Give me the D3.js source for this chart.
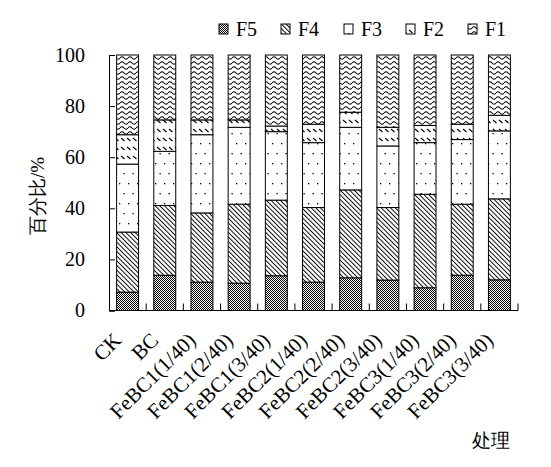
<!DOCTYPE html>
<html><head><meta charset="utf-8">
<script src="https://cdn.jsdelivr.net/npm/d3@7"></script>
<style>
body{margin:0;background:#fff;}
text{font-family:"Liberation Serif","Times New Roman",serif;fill:#000;}
</style></head>
<body><svg id="c" width="551" height="467"></svg>
<script>
const categories = ["CK","BC","FeBC1(1/40)","FeBC1(2/40)","FeBC1(3/40)","FeBC2(1/40)","FeBC2(2/40)","FeBC2(3/40)","FeBC3(1/40)","FeBC3(2/40)","FeBC3(3/40)"];
const seriesNames = ["F5","F4","F3","F2","F1"];
const F5 = [7.2,13.8,11.1,10.7,13.6,11.1,12.8,11.9,8.9,13.8,12.0];
const F4 = [23.5,27.3,27.1,30.9,29.6,29.2,34.4,28.4,36.6,27.8,31.7];
const F3 = [26.6,21.2,30.6,30.1,26.8,25.4,24.5,24.1,20.2,25.3,26.6];
const F2 = [11.5,12.3,5.8,2.9,2.2,7.2,5.9,7.3,6.7,6.0,6.1];
const F1 = [31.2,25.4,25.4,25.4,27.8,27.1,22.4,28.3,27.6,27.1,23.6];
const yTicks = [0,20,40,60,80,100];
const yTitle = "百分比/%";
const xTitle = "处理";

const svg = d3.select("#c");
const defs = svg.append("defs");
function pat(id,w,h){return defs.append("pattern").attr("id",id).attr("patternUnits","userSpaceOnUse").attr("width",w).attr("height",h);}
let p5 = pat("pF5",2,2);
p5.append("rect").attr("width",2).attr("height",2).attr("fill","#fff");
p5.append("rect").attr("width",1).attr("height",1).attr("fill","#000");
p5.append("rect").attr("x",1).attr("y",1).attr("width",1).attr("height",1).attr("fill","#000");
let p4 = pat("pF4",3.3,3.3).attr("patternTransform","rotate(-45)");
p4.append("rect").attr("width",3.3).attr("height",3.3).attr("fill","#fff");
p4.append("rect").attr("width",0.95).attr("height",3.3).attr("fill","#000");
let p3 = pat("pF3",9,20);
p3.append("rect").attr("width",9).attr("height",20).attr("fill","#fff");
p3.append("rect").attr("x",2).attr("y",3).attr("width",1.3).attr("height",1.3).attr("fill","#000");
p3.append("rect").attr("x",6.5).attr("y",13).attr("width",1.3).attr("height",1.3).attr("fill","#000");
let p2 = pat("pF2",6,9);
p2.append("rect").attr("width",6).attr("height",9).attr("fill","#fff");
p2.append("path").attr("d","M1,3 L4.5,6").attr("stroke","#000").attr("stroke-width",1.1);
let p1 = pat("pF1",8,5);
p1.append("rect").attr("width",8).attr("height",5).attr("fill","#fff");
p1.append("path").attr("d","M0,3 Q2,0.6 4,3 T8,3").attr("fill","none").attr("stroke","#000").attr("stroke-width",1.1);

const x0=109, x1=518, yTop=55, yBot=310.5;
const x = d3.scaleBand().domain(categories).range([x0,x1]).paddingInner(0.41).paddingOuter(0.205);
const y = d3.scaleLinear().domain([0,100]).range([yBot,yTop]);

const rows = categories.map((c,i)=>({cat:c,F5:F5[i],F4:F4[i],F3:F3[i],F2:F2[i],F1:F1[i]}));
const stack = d3.stack().keys(seriesNames)(rows);

const g = svg.append("g");
stack.forEach(s=>{
  g.append("g").selectAll("rect").data(s).join("rect")
   .attr("x",d=>x(d.data.cat)).attr("width",x.bandwidth())
   .attr("y",d=>y(d[1])).attr("height",d=>y(d[0])-y(d[1]))
   .attr("fill",`url(#p${s.key})`).attr("stroke","#000").attr("stroke-width",1);
});

const ya = svg.append("g").attr("transform",`translate(${x0},0)`)
  .call(d3.axisLeft(y).tickValues(yTicks).tickSize(-6).tickPadding(24));
ya.select(".domain").attr("stroke","#000");
ya.selectAll(".tick line").attr("stroke","#000");
ya.selectAll("text").attr("font-size",20).attr("font-family","Liberation Serif");

svg.append("line").attr("x1",x0).attr("x2",x1).attr("y1",yBot).attr("y2",yBot).attr("stroke","#000");
const bounds = d3.range(categories.length+1).map(i=>x0+i*x.step());
svg.append("g").selectAll("line").data(bounds.slice(1)).join("line")
  .attr("x1",d=>d).attr("x2",d=>d).attr("y1",yBot).attr("y2",yBot-7).attr("stroke","#000");

svg.append("g").selectAll("text").data(categories).join("text")
  .attr("transform",d=>`translate(${x(d)+x.bandwidth()/2-5},${yBot+31}) rotate(-45)`)
  .attr("text-anchor","end").attr("font-size",21).text(d=>d);

svg.append("text").attr("transform","translate(44,196) rotate(-90)").attr("text-anchor","middle")
  .attr("font-size",19).attr("font-family","Noto Sans CJK SC").text(yTitle);
svg.append("text").attr("x",472).attr("y",447).attr("font-size",19).attr("font-family","Noto Sans CJK SC").text(xTitle);

const legX = [219,281,344,406,468];
const lg = svg.append("g");
seriesNames.forEach((k,i)=>{
  lg.append("rect").attr("x",legX[i]).attr("y",24).attr("width",9).attr("height",10)
    .attr("fill",`url(#p${k})`).attr("stroke","#000");
  lg.append("text").attr("x",legX[i]+17).attr("y",35.5).attr("font-size",20).text(k);
});
</script></body></html>
